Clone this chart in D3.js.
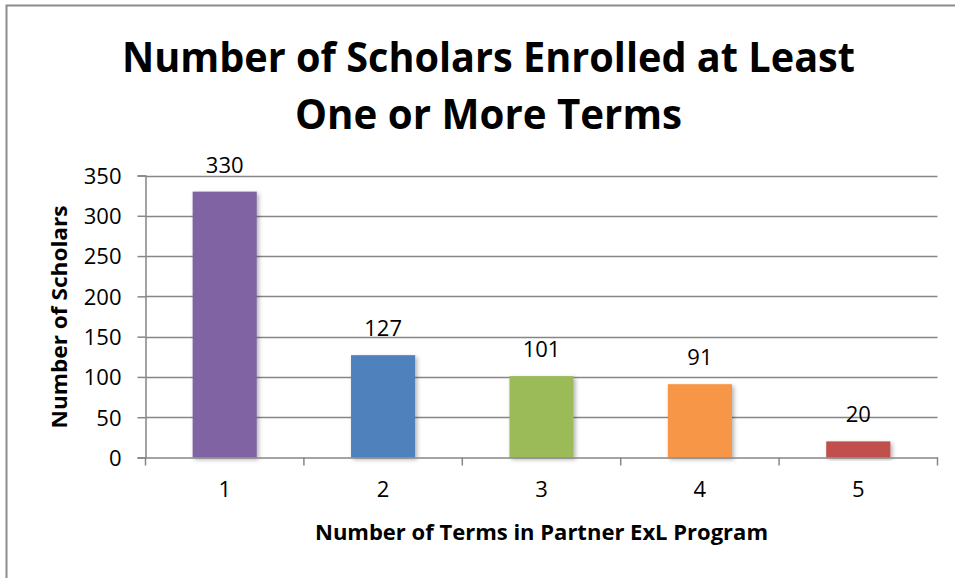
<!DOCTYPE html>
<html lang="en">
<head>
    <meta charset="UTF-8">
    <script src="https://cdn.jsdelivr.net/npm/d3@7/dist/d3.min.js"></script>
    <title>Number of Scholars</title>
    <style>
        body { margin: 0; background: #fff; }
        text { font-family: "Open Sans", sans-serif; fill: #000; }
    </style>
</head>
<body>
    <script>
        var categories = ["1", "2", "3", "4", "5"];
        var values = [330, 127, 101, 91, 20];
        var colors = ["#8064A2", "#4F81BD", "#9BBB59", "#F79646", "#C0504D"];
        var yTicks = [0, 50, 100, 150, 200, 250, 300, 350];
        var titleLines = ["Number of Scholars Enrolled at Least", "One or More Terms"];

        var width = 955, height = 578;
        var plotLeft = 145.5, plotRight = 937.5, plotTop = 175.5, plotBottom = 457.5;

        var svg = d3.select("body").append("svg").attr("width", width).attr("height", height);

        var defs = svg.append("defs");
        var f = defs.append("filter").attr("id", "shadow").attr("x", "-10%").attr("y", "-10%").attr("width", "130%").attr("height", "130%");
        f.append("feDropShadow").attr("dx", 2).attr("dy", 2).attr("stdDeviation", 2)
            .attr("flood-color", "#000").attr("flood-opacity", 0.3);

        // outer chart border (left and top visible)
        svg.append("path").attr("d", "M6.5,578 L6.5,5.5 L955,5.5")
            .attr("fill", "none").attr("stroke", "#8c8c8c").attr("stroke-width", 2);

        var x = d3.scaleBand().domain(categories).range([plotLeft, plotRight]).paddingInner(0).paddingOuter(0);
        var y = d3.scaleLinear().domain([0, 350]).range([plotBottom, plotTop]);

        // gridlines
        svg.append("g").selectAll("line").data(yTicks.filter(function (d) { return d > 0; })).enter().append("line")
            .attr("x1", plotLeft).attr("x2", plotRight)
            .attr("y1", function (d) { return Math.round(y(d)) + 0.5; })
            .attr("y2", function (d) { return Math.round(y(d)) + 0.5; })
            .attr("stroke", "#868686").attr("stroke-width", 1.5);

        // bars
        var bw = x.bandwidth() * 0.405;
        svg.append("g").selectAll("rect").data(values).enter().append("rect")
            .attr("x", function (d, i) { return x(categories[i]) + x.bandwidth() / 2 - bw / 2; })
            .attr("y", function (d) { return y(d); })
            .attr("width", bw)
            .attr("height", function (d) { return plotBottom - y(d); })
            .attr("fill", function (d, i) { return colors[i]; })
            .attr("filter", "url(#shadow)");

        // y axis
        var yAxis = svg.append("g").attr("transform", "translate(" + plotLeft + ",0)")
            .call(d3.axisLeft(y).tickValues(yTicks).tickSize(8).tickPadding(16));
        yAxis.select(".domain").attr("stroke", "#868686").attr("stroke-width", 1.5);
        yAxis.selectAll(".tick line").attr("stroke", "#868686").attr("stroke-width", 1.5);
        yAxis.selectAll(".tick text").style("font-size", "22px").attr("font-family", "Open Sans").attr("dy", "0.36em");

        // x axis
        var xAxis = svg.append("g").attr("transform", "translate(0," + plotBottom + ")")
            .call(d3.axisBottom(x).tickSize(0).tickPadding(24));
        xAxis.select(".domain").attr("stroke", "#868686").attr("stroke-width", 1.5);
        xAxis.selectAll(".tick text").style("font-size", "22px").attr("font-family", "Open Sans");
        var bounds = categories.map(function (c) { return x(c); }).concat([plotRight]);
        xAxis.selectAll(".bt").data(bounds).enter().append("line").attr("class", "bt")
            .attr("x1", function (d) { return d; }).attr("x2", function (d) { return d; })
            .attr("y1", 0).attr("y2", 8)
            .attr("stroke", "#868686").attr("stroke-width", 1.5);

        // data labels
        svg.append("g").selectAll("text").data(values).enter().append("text")
            .attr("x", function (d, i) { return x(categories[i]) + x.bandwidth() / 2; })
            .attr("y", function (d) { return y(d) - 19; })
            .attr("text-anchor", "middle")
            .style("font-size", "22px")
            .text(function (d) { return d; });

        // title
        var titleLen = [733, 387];
        svg.append("g").selectAll("text").data(titleLines).enter().append("text")
            .attr("x", 488.5)
            .attr("y", function (d, i) { return 72 + i * 57; })
            .attr("text-anchor", "middle")
            .attr("textLength", function (d, i) { return titleLen[i]; })
            .attr("lengthAdjust", "spacingAndGlyphs")
            .style("font-size", "41px").style("font-weight", "bold")
            .text(function (d) { return d; });

        // axis titles
        svg.append("text")
            .attr("transform", "translate(67,317) rotate(-90)")
            .attr("text-anchor", "middle")
            .attr("textLength", 223).attr("lengthAdjust", "spacingAndGlyphs")
            .style("font-size", "21px").style("font-weight", "bold")
            .text("Number of Scholars");

        svg.append("text")
            .attr("x", 541.5).attr("y", 540)
            .attr("text-anchor", "middle")
            .attr("textLength", 453).attr("lengthAdjust", "spacingAndGlyphs")
            .style("font-size", "21px").style("font-weight", "bold")
            .text("Number of Terms in Partner ExL Program");
    </script>
</body>
</html>
